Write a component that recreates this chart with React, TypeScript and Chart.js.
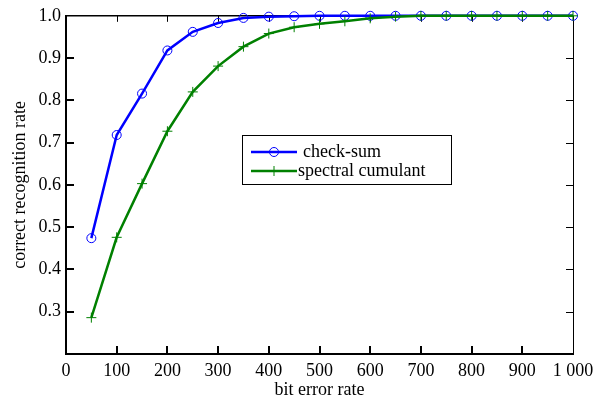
import React, { useEffect, useRef } from "react";
import { Chart, registerables } from "chart.js";

Chart.register(...registerables);

const bitErrorRates = [50, 100, 150, 200, 250, 300, 350, 400, 450, 500, 550, 600, 650, 700, 750, 800, 850, 900, 950, 1000];
const checkSum = [0.474, 0.718, 0.816, 0.918, 0.962, 0.983, 0.995, 0.998, 0.999, 1, 1, 1, 1, 1, 1, 1, 1, 1, 1, 1];
const spectralCumulant = [0.286, 0.476, 0.603, 0.727, 0.82, 0.881, 0.927, 0.958, 0.973, 0.981, 0.987, 0.994, 0.998, 1, 1, 1, 1, 1, 1, 1];
const seriesNames = ["check-sum", "spectral cumulant"];
const xTitle = "bit error rate";
const yTitle = "correct recognition rate";

const FONT = "'Liberation Serif', 'Times New Roman', serif";
const BLUE = "#0000ff";
const GREEN = "#008000";

const framePlugin = {
  id: "frame",
  beforeDatasetsDraw(chart: any) {
    const { ctx, chartArea: a, scales } = chart;
    const xs = scales.x;
    const ys = scales.y;
    ctx.save();
    ctx.strokeStyle = "#000";
    ctx.lineWidth = 1.5;
    ctx.beginPath();
    ctx.moveTo(a.left, a.top);
    ctx.lineTo(a.right, a.top);
    ctx.stroke();
    ctx.lineWidth = 1;
    ctx.beginPath();
    ctx.moveTo(a.right + 0.5, a.top);
    ctx.lineTo(a.right + 0.5, a.bottom);
    ctx.stroke();
    xs.ticks.forEach((t: any) => {
      if (t.value <= xs.min || t.value >= xs.max) return;
      const px = Math.round(xs.getPixelForValue(t.value));
      ctx.lineWidth = 2;
      ctx.beginPath();
      ctx.moveTo(px, a.bottom);
      ctx.lineTo(px, a.bottom - 8);
      ctx.stroke();
      ctx.lineWidth = 1;
      ctx.beginPath();
      ctx.moveTo(px + 0.5, a.top);
      ctx.lineTo(px + 0.5, a.top + 6);
      ctx.stroke();
    });
    ys.ticks.forEach((t: any) => {
      if (t.value <= ys.min + 1e-9 || t.value >= ys.max - 1e-9) return;
      const py = Math.round(ys.getPixelForValue(t.value));
      ctx.lineWidth = 2;
      ctx.beginPath();
      ctx.moveTo(a.left, py);
      ctx.lineTo(a.left + 8, py);
      ctx.stroke();
      ctx.lineWidth = 1;
      ctx.beginPath();
      ctx.moveTo(a.right, py + 0.5);
      ctx.lineTo(a.right - 7, py + 0.5);
      ctx.stroke();
    });
    ctx.restore();
  },
  afterDraw(chart: any) {
    const { ctx, chartArea: a } = chart;
    const ds = chart.data.datasets;
    const bx = a.left + 176;
    const by = 135;
    const bw = 209;
    const bh = 49;
    ctx.save();
    ctx.fillStyle = "#fff";
    ctx.fillRect(bx, by, bw, bh);
    ctx.strokeStyle = "#000";
    ctx.lineWidth = 1;
    ctx.strokeRect(bx + 0.5, by + 0.5, bw, bh);
    const rows = [
      { d: ds[1], y: by + 17, tx: bx + 61 },
      { d: ds[0], y: by + 36, tx: bx + 56 },
    ];
    rows.forEach((r) => {
      ctx.strokeStyle = r.d.borderColor;
      ctx.lineWidth = 2.5;
      ctx.beginPath();
      ctx.moveTo(bx + 9, r.y);
      ctx.lineTo(bx + 55, r.y);
      ctx.stroke();
      ctx.lineWidth = 1;
      const cx = bx + 32;
      ctx.beginPath();
      if (r.d.pointStyle === "circle") {
        ctx.arc(cx, r.y, 4.5, 0, Math.PI * 2);
      } else {
        ctx.moveTo(cx - 5, r.y);
        ctx.lineTo(cx + 5, r.y);
        ctx.moveTo(cx, r.y - 5);
        ctx.lineTo(cx, r.y + 5);
      }
      ctx.stroke();
      ctx.fillStyle = "#000";
      ctx.font = `18px ${FONT}`;
      ctx.textBaseline = "middle";
      ctx.textAlign = "left";
      ctx.fillText(r.d.label, r.tx, r.y);
    });
    ctx.restore();
  },
};

export default function App() {
  const ref = useRef<HTMLCanvasElement | null>(null);
  useEffect(() => {
    if (!ref.current) return;
    const chart = new Chart(ref.current, {
      type: "line",
      data: {
        datasets: [
          {
            label: seriesNames[1],
            data: bitErrorRates.map((x, i) => ({ x, y: spectralCumulant[i] })),
            borderColor: GREEN,
            backgroundColor: "transparent",
            borderWidth: 2.5,
            pointStyle: "cross",
            pointRadius: 5,
            pointBorderWidth: 1,
            pointBorderColor: GREEN,
            tension: 0,
            clip: false as any,
            order: 1,
          },
          {
            label: seriesNames[0],
            data: bitErrorRates.map((x, i) => ({ x, y: checkSum[i] })),
            borderColor: BLUE,
            backgroundColor: "transparent",
            borderWidth: 2.5,
            pointStyle: "circle",
            pointRadius: 4.5,
            pointBorderWidth: 1,
            pointBorderColor: BLUE,
            pointBackgroundColor: "transparent",
            tension: 0,
            clip: false as any,
            order: 2,
          },
        ],
      },
      options: {
        responsive: false,
        animation: false,
        devicePixelRatio: 1,
        layout: { padding: { top: 15, right: 30, left: 0, bottom: 0 } },
        plugins: { legend: { display: false }, tooltip: { enabled: false } },
        scales: {
          x: {
            type: "linear",
            min: 0,
            max: 1000,
            grid: { display: false, drawTicks: false },
            border: { display: true, color: "#000", width: 2 },
            ticks: {
              stepSize: 100,
              color: "#000",
              font: { family: FONT, size: 18 },
              padding: 6,
              maxRotation: 0,
              callback: (v: any) => (v === 1000 ? "1 000" : String(v)),
            },
            title: {
              display: true,
              text: xTitle,
              color: "#000",
              font: { family: FONT, size: 18 },
              padding: { top: 0, bottom: 0 },
            },
            afterFit: (s: any) => {
              s.height = 47;
            },
          },
          y: {
            type: "linear",
            min: 0.2,
            max: 1.0,
            grid: { display: false, drawTicks: false },
            border: { display: true, color: "#000", width: 2 },
            ticks: {
              stepSize: 0.1,
              color: "#000",
              font: { family: FONT, size: 18 },
              padding: 5,
              callback: (v: any) => (v < 0.25 ? "" : Number(v).toFixed(1)),
            },
            title: {
              display: true,
              text: yTitle,
              color: "#000",
              font: { family: FONT, size: 18 },
              padding: { top: 9, bottom: 0 },
            },
            afterFit: (s: any) => {
              s.width = 66;
            },
          },
        },
      },
      plugins: [framePlugin],
    });
    return () => chart.destroy();
  }, []);
  return (
    <div style={{ position: "absolute", left: 0, top: 0, width: 603, height: 401, background: "#fff" }}>
      <canvas ref={ref} width={603} height={401} />
    </div>
  );
}
